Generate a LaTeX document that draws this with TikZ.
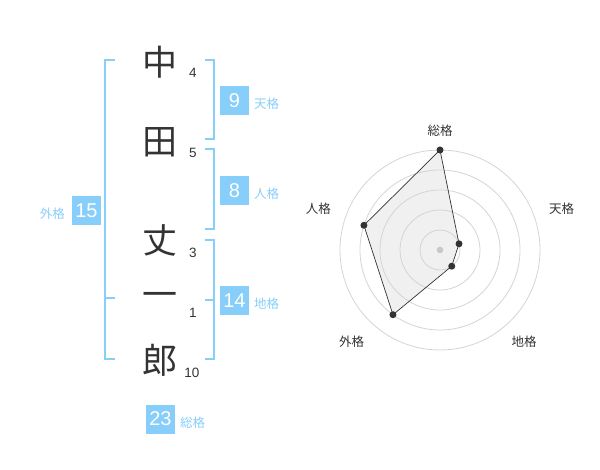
\documentclass[tikz,border=0pt]{standalone}
\usepackage{fontspec}
\setmainfont{Liberation Sans}
\newfontfamily\jp{Noto Sans CJK JP}
\definecolor{sky}{RGB}{135,206,250}
\definecolor{ink}{HTML}{333333}
\definecolor{ringc}{HTML}{D4D4D4}
\definecolor{areac}{HTML}{F0F0F0}
\begin{document}
\begin{tikzpicture}[x=1pt,y=-1pt,
  kanji/.style={font=\jp\fontsize{35}{35}\selectfont, text=ink, inner sep=0},
  strokes/.style={font=\fontsize{13.5}{14}\selectfont, text=ink, inner sep=0},
  valbox/.style={fill=sky, text=white, minimum size=29pt, inner sep=0, font=\fontsize{20}{20}\selectfont},
  cat/.style={font=\jp\fontsize{12.5}{12.5}\selectfont, text=sky, inner sep=0},
  bracket/.style={draw=sky, line width=2pt},
  ring/.style={draw=ringc, line width=0.8pt},
  axlabel/.style={font=\jp\fontsize{12.5}{12.5}\selectfont, text=ink, inner sep=0},
  dot/.style={circle, fill=ink, inner sep=0, minimum size=7pt},
]
\useasboundingbox (0,0) rectangle (600,470);

% name characters
\node[kanji] (c1) at (160,62) {中};
\node[kanji] (c2) at (160,142) {田};
\node[kanji] (c3) at (160,240) {丈};
\node[kanji] (c4) at (160,300) {一};
\node[kanji] (c5) at (160,360) {郎};

% stroke counts
\node[strokes] (n1) at (193,73) {4};
\node[strokes] (n2) at (193,153) {5};
\node[strokes] (n3) at (193,253) {3};
\node[strokes] (n4) at (193,313) {1};
\node[strokes] (n5) at (192,373) {10};

% brackets
\draw[bracket] (115,60) -- (105,60) -- (105,359) -- (115,359);
\draw[bracket] (105,298) -- (115,298);
\draw[bracket] (205,60) -- (214,60) -- (214,139) -- (205,139);
\draw[bracket] (205,149) -- (214,149) -- (214,229) -- (205,229);
\draw[bracket] (205,240) -- (214,240) -- (214,359) -- (205,359);
\draw[bracket] (205,300) -- (214,300);

% value boxes and labels
\node[valbox] (ten) at (234.5,100.5) {9};
\node[cat, anchor=west] (tenL) at (254,104) {天格};
\node[valbox] (jin) at (234.5,190.5) {8};
\node[cat, anchor=west] (jinL) at (254,194) {人格};
\node[valbox] (chi) at (234.5,300.5) {14};
\node[cat, anchor=west] (chiL) at (254,304) {地格};
\node[valbox] (gai) at (86.5,210.5) {15};
\node[cat, anchor=east] (gaiL) at (65,214) {外格};
\node[valbox] (sou) at (160.5,419) {23};
\node[cat, anchor=west] (souL) at (180,422.5) {総格};

% radar chart
\coordinate (C) at (440,250);
\begin{scope}[shift={(C)}]
  \coordinate (pS) at (90:100pt);
  \coordinate (pT) at (18:20pt);
  \coordinate (pC) at (-54:20pt);
  \coordinate (pG) at (-126:80pt);
  \coordinate (pJ) at (162:80pt);
  \fill[areac] (pS) -- (pT) -- (pC) -- (pG) -- (pJ) -- cycle;
  \foreach \r in {20,40,60,80,100} \draw[ring] (0,0) circle[radius=\r pt];
  \draw[ink, line width=0.7pt] (pS) -- (pT) -- (pC) -- (pG) -- (pJ) -- cycle;
  \fill[black!22] (0,0) circle[radius=3.3pt];
  \foreach \p in {pS,pT,pC,pG,pJ} \node[dot] at (\p) {};
\end{scope}
\node[axlabel] (aS) at (440,130.7) {総格};
\node[axlabel] (aT) at (561.7,209) {天格};
\node[axlabel] (aC) at (524,341.7) {地格};
\node[axlabel] (aG) at (351.7,341.7) {外格};
\node[axlabel] (aJ) at (318.3,209) {人格};
\end{tikzpicture}
\end{document}
